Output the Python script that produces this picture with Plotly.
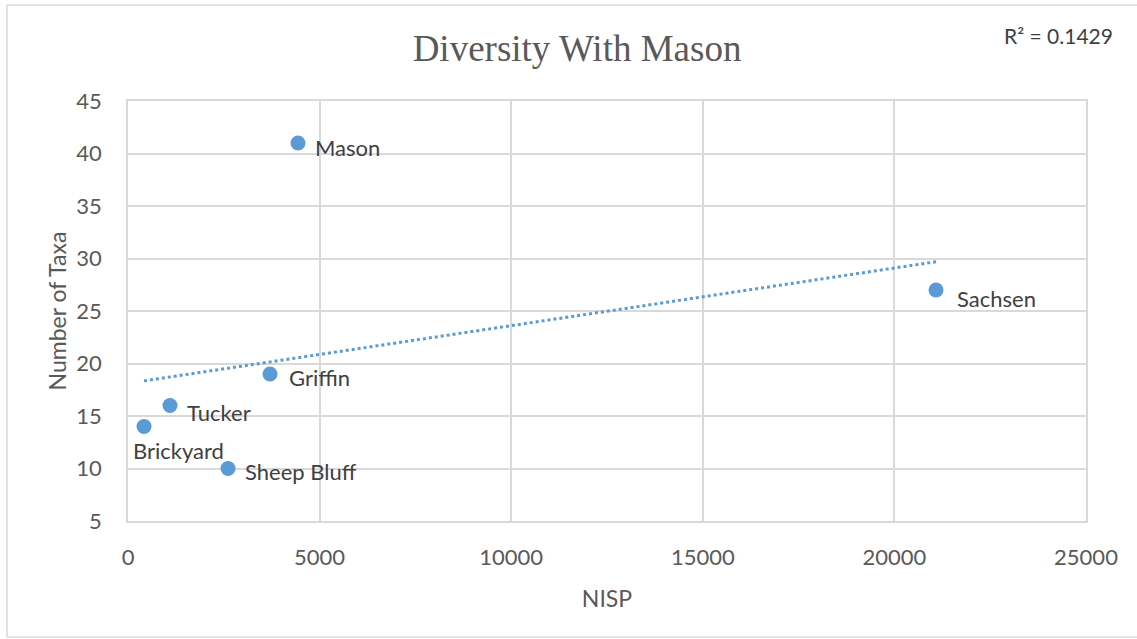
import numpy as np
import plotly.graph_objects as go

# Sites, NISP counts and number of taxa
sites = ["Mason", "Sachsen", "Griffin", "Tucker", "Brickyard", "Sheep Bluff"]
nisp = [4436, 21086, 3706, 1096, 418, 2610]
taxa = [41, 27, 19, 16, 14, 10]

x_ticks = [0, 5000, 10000, 15000, 20000, 25000]
y_ticks = [5, 10, 15, 20, 25, 30, 35, 40, 45]

r2_label = "R² = 0.1429"

# Label placement (pixel shifts from each marker)
label_shift = {
    "Mason": (15, -4, "left"),
    "Sachsen": (19, -8, "left"),
    "Griffin": (17, -3, "left"),
    "Tucker": (15, -7, "left"),
    "Brickyard": (34, -24, "center"),
    "Sheep Bluff": (15, -3, "left"),
}

BLUE = "#5b9bd5"
GRID = "#d9d9d9"
TEXT = "#595959"
LABEL = "#404040"
FONT = "Lato"

# Linear least-squares trendline over the data range
x_arr = np.array(nisp, dtype=float)
y_arr = np.array(taxa, dtype=float)
slope, intercept = np.polyfit(x_arr, y_arr, 1)
trend_x = np.array([x_arr.min(), x_arr.max()])
trend_y = slope * trend_x + intercept

fig = go.Figure()
fig.add_trace(go.Scatter(
    x=trend_x, y=trend_y, mode="lines",
    line=dict(color=BLUE, width=3, dash="dot"),
    hoverinfo="skip", showlegend=False,
))
fig.add_trace(go.Scatter(
    x=nisp, y=taxa, mode="markers",
    marker=dict(color=BLUE, size=15, line=dict(width=0)),
    showlegend=False,
))

for name, xv, yv in zip(sites, nisp, taxa):
    dx, dy, anchor = label_shift[name]
    fig.add_annotation(
        x=xv, y=yv, text=name, showarrow=False,
        xanchor=anchor, yanchor="middle", xshift=dx, yshift=dy,
        font=dict(family=FONT, size=22, color=LABEL),
    )

fig.add_annotation(
    xref="paper", yref="paper", x=1.03, y=1.155,
    text=r2_label, showarrow=False, xanchor="right", yanchor="middle",
    font=dict(family=FONT, size=21, color=LABEL),
)

# Outer chart frame: left, top and bottom edges
frame_left, frame_right = -0.1263, 1.1
frame_bottom, frame_top = -0.276, 1.2286
for x0, y0, x1, y1 in [
    (frame_left, frame_bottom, frame_left, frame_top),
    (frame_left, frame_top, frame_right, frame_top),
    (frame_left, frame_bottom, frame_right, frame_bottom),
]:
    fig.add_shape(
        type="line", xref="paper", yref="paper",
        x0=x0, y0=y0, x1=x1, y1=y1,
        line=dict(color=GRID, width=1.5), layer="below",
    )

fig.update_layout(
    width=1137, height=639,
    margin=dict(l=128, r=51, t=101, b=118),
    paper_bgcolor="white", plot_bgcolor="white",
    title=dict(
        text="Diversity With Mason", x=0.5075, xanchor="center",
        y=0.925, yanchor="middle",
        font=dict(family="Liberation Serif", size=37, color=TEXT),
    ),
    xaxis=dict(
        range=[0, 25000], tickvals=x_ticks, ticktext=[str(v) for v in x_ticks],
        showgrid=True, gridcolor=GRID, gridwidth=1.5,
        zeroline=False, showline=True, linecolor=GRID, linewidth=1.5, mirror=True,
        ticks="", ticklabelstandoff=16, tickfont=dict(family=FONT, size=22, color=TEXT),
        title=dict(text="NISP", font=dict(family=FONT, size=23, color=TEXT), standoff=22),
    ),
    yaxis=dict(
        range=[5, 45], tickvals=y_ticks,
        showgrid=True, gridcolor=GRID, gridwidth=1.5,
        zeroline=False, showline=True, linecolor=GRID, linewidth=1.5, mirror=True,
        ticks="", ticklabelstandoff=20, tickfont=dict(family=FONT, size=22, color=TEXT),
        title=dict(text="Number of Taxa", font=dict(family=FONT, size=23, color=TEXT), standoff=3),
    ),
)

fig.write_html("out.html")
